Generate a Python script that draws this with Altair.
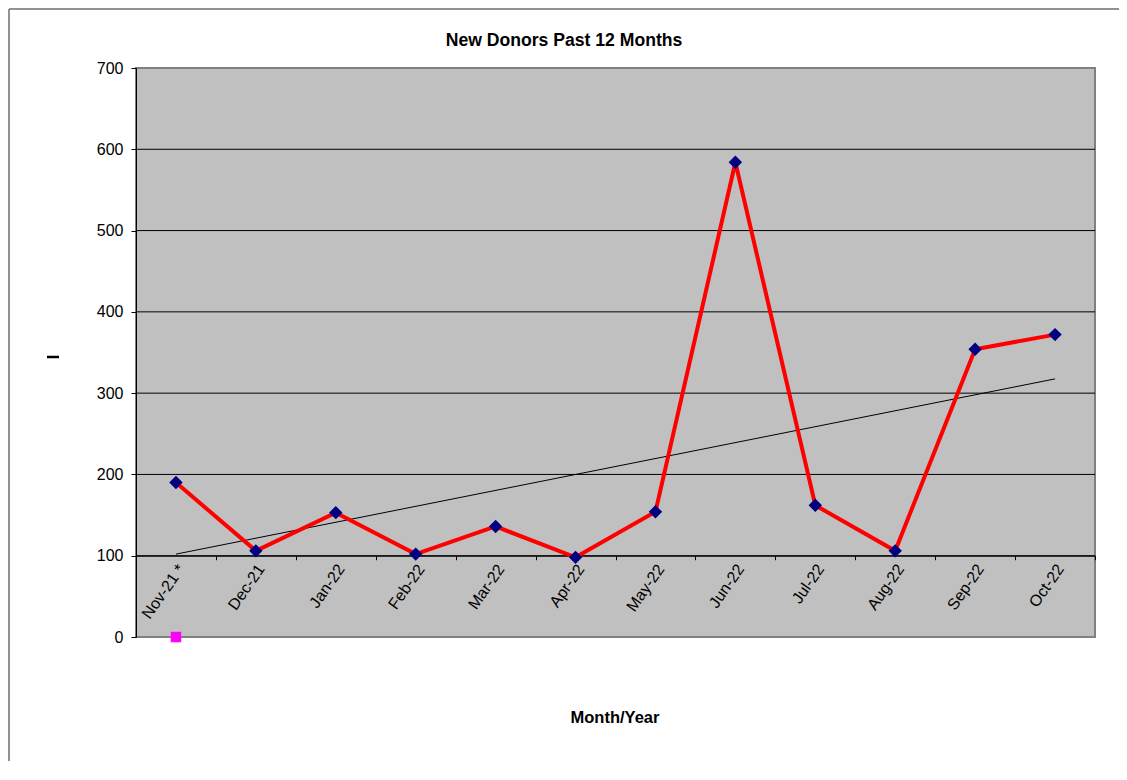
import altair as alt
import pandas as pd

months = ["Nov-21 *", "Dec-21", "Jan-22", "Feb-22", "Mar-22", "Apr-22",
          "May-22", "Jun-22", "Jul-22", "Aug-22", "Sep-22", "Oct-22"]
donors = [190, 106, 153, 102, 136, 98, 154, 584, 162, 106, 354, 372]
marker_month = ["Nov-21 *"]
marker_value = [0]
grid_values = [100, 200, 300, 400, 500, 600]
y_ticks = [0, 100, 200, 300, 400, 500, 600, 700]

W, H = 959, 569
FONT = "Liberation Sans"

df = pd.DataFrame({"month": months, "value": donors, "idx": list(range(len(months)))})
mk = pd.DataFrame({"month": marker_month, "value": marker_value})
gr = pd.DataFrame({"g": grid_values})

xscale = alt.Scale(type="band", domain=months, paddingInner=0, paddingOuter=0)
yscale = alt.Scale(domain=[0, 700], nice=False, zero=True)

xaxis = alt.Axis(title=None, offset=-H / 7, domainColor="black", domainWidth=1,
                 tickColor="black", tickSize=4, tickBand="extent",
                 labelAngle=305, labelFont=FONT, labelFontSize=16, labelColor="black",
                 labelPadding=6, labelOffset=5, labelAlign="right", labelBaseline="middle")
yaxis = alt.Axis(title=None, values=y_ticks, grid=False, domainColor="black", domainWidth=1,
                 tickColor="black", tickSize=5, labelFont=FONT, labelFontSize=16,
                 labelColor="black", labelPadding=8)

base = alt.Chart(df)

grid = alt.Chart(gr).mark_rule(color="black", strokeWidth=1).encode(
    y=alt.Y("g:Q", scale=yscale, axis=yaxis)
)

trend = base.transform_regression("idx", "value", method="linear").transform_lookup(
    lookup="idx", from_=alt.LookupData(data=df, key="idx", fields=["month"])
).mark_line(color="black", strokeWidth=1).encode(
    x=alt.X("month:N", scale=xscale, axis=xaxis, sort=months),
    y=alt.Y("value:Q", scale=yscale, axis=yaxis),
)

line = base.mark_line(color="#FF0000", strokeWidth=4).encode(
    x=alt.X("month:N", scale=xscale, axis=xaxis, sort=months),
    y=alt.Y("value:Q", scale=yscale, axis=yaxis),
)

pts = base.mark_point(shape="diamond", filled=True, color="#000080", size=180, opacity=1).encode(
    x=alt.X("month:N", scale=xscale, axis=xaxis, sort=months),
    y=alt.Y("value:Q", scale=yscale, axis=yaxis),
)

mag = alt.Chart(mk).mark_point(shape="square", filled=True, color="#FF00FF", size=110, opacity=1).encode(
    x=alt.X("month:N", scale=xscale, axis=xaxis, sort=months),
    y=alt.Y("value:Q", scale=yscale, axis=yaxis),
)

def txt(s, x, y, size, bold=True):
    return alt.Chart(pd.DataFrame({"t": [s]})).mark_text(
        font=FONT, fontSize=size, fontWeight="bold" if bold else "normal",
        color="black", align="center", baseline="middle"
    ).encode(text="t:N", x=alt.value(x), y=alt.value(y))

title = txt("New Donors Past 12 Months", 428, -27, 17.6)
xtitle = txt("Month/Year", 479, 650, 16.5)

one = pd.DataFrame({"a": [0]})
ytitle = alt.Chart(one).mark_rule(color="black", strokeWidth=2.5).encode(
    x=alt.value(-89), x2=alt.value(-77), y=alt.value(289)
)
frame_top = alt.Chart(one).mark_rule(color="#6e6e6e", strokeWidth=1.5).encode(
    x=alt.value(-127), x2=alt.value(W + 60), y=alt.value(-59)
)
frame_left = alt.Chart(one).mark_rule(color="#6e6e6e", strokeWidth=1.5).encode(
    x=alt.value(-127), y=alt.value(-59), y2=alt.value(H + 200)
)

chart = alt.layer(
    grid, trend, line, pts, mag, title, xtitle, ytitle, frame_top, frame_left
).properties(
    width=W, height=H,
    autosize=alt.AutoSizeParams(type="none"),
    padding={"left": 128, "top": 60, "right": 24, "bottom": 124},
    background="white",
).configure_view(
    fill="#C0C0C0", stroke="#808080", strokeWidth=2
)

chart.save("out.html", embed_options={"renderer": "svg", "actions": False})
